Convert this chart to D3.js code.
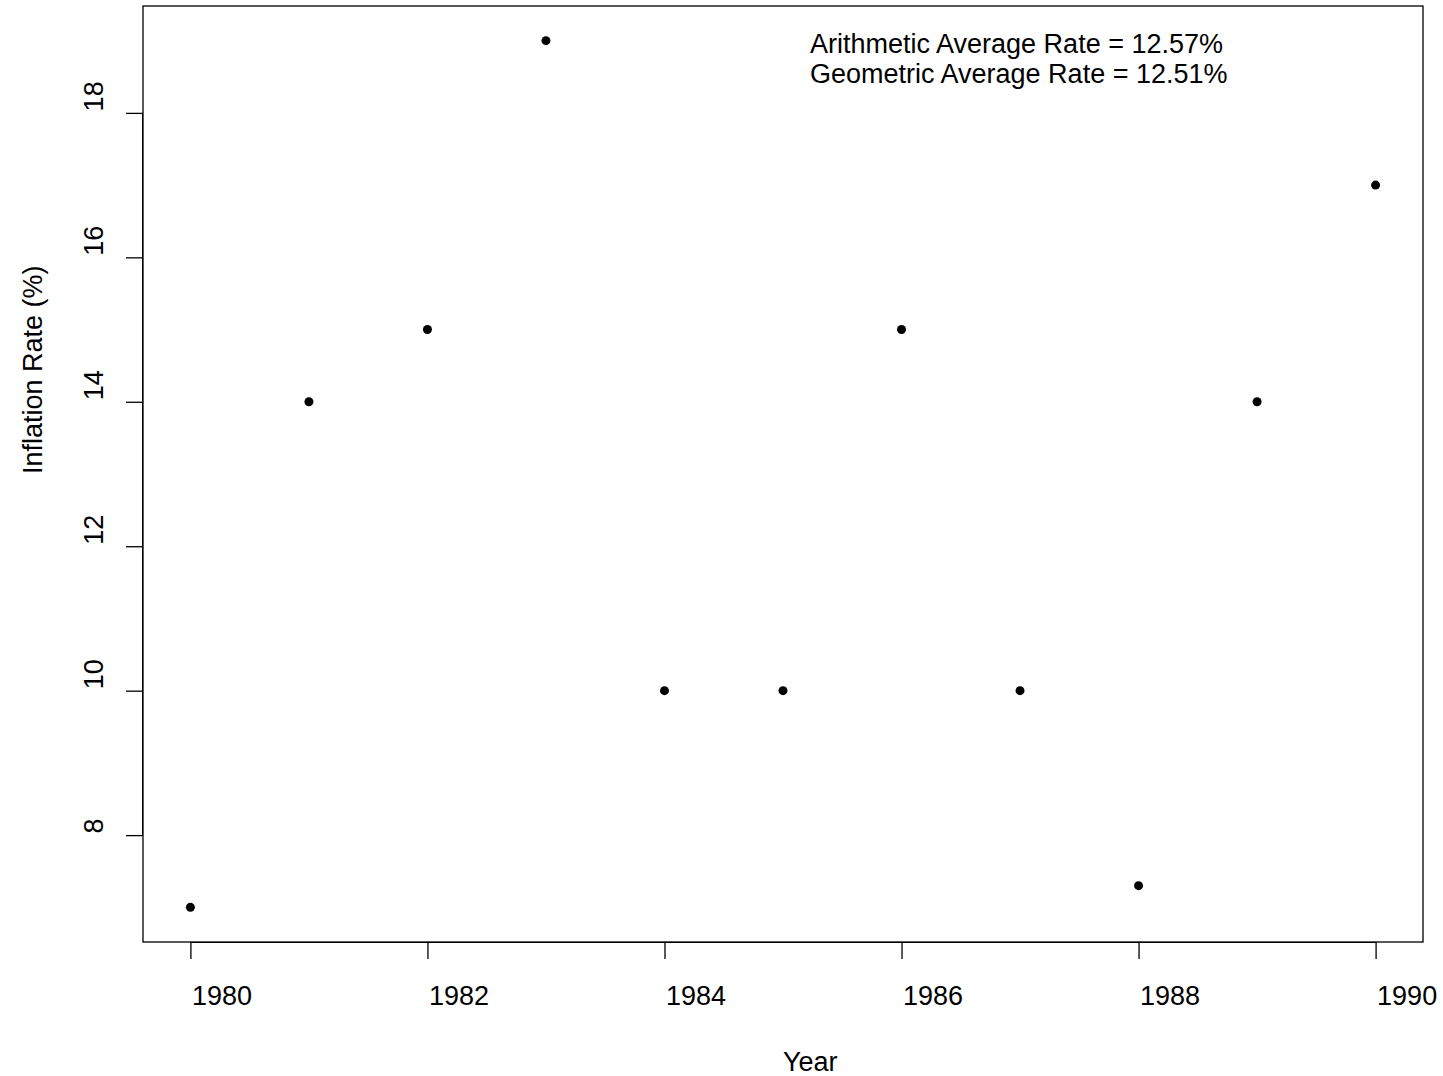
<!DOCTYPE html>
<html>
<head>
<meta charset="utf-8">
<script src="https://cdn.jsdelivr.net/npm/d3@7"></script>
<style>
  body { margin: 0; background: #fff; }
  text { font-family: "Liberation Sans", Arial, sans-serif; fill: #000; }
</style>
</head>
<body>
<div id="chart"></div>
<script>
// inflation rate per year
const years = [1980, 1981, 1982, 1983, 1984, 1985, 1986, 1987, 1988, 1989, 1990];
const rates = [7, 14, 15, 19, 10, 10, 15, 10, 7.3, 14, 17];
const xTicks = [1980, 1982, 1984, 1986, 1988, 1990];
const yTicks = [8, 10, 12, 14, 16, 18];
const notes = ["Arithmetic Average Rate = 12.57%", "Geometric Average Rate = 12.51%"];

const W = 1443, H = 1076;
const box = { left: 143, right: 1423, top: 6, bottom: 942 };
const fs = "27px";

const svg = d3.select("#chart").append("svg")
    .attr("width", W)
    .attr("height", H);

// R style 4% padding on both axes
const xExt = d3.extent(years), yExt = d3.extent(rates);
const xPad = (xExt[1] - xExt[0]) * 0.04, yPad = (yExt[1] - yExt[0]) * 0.04;

const x = d3.scaleLinear()
    .domain([xExt[0] - xPad, xExt[1] + xPad])
    .range([box.left, box.right]);
const y = d3.scaleLinear()
    .domain([yExt[0] - yPad, yExt[1] + yPad])
    .range([box.bottom, box.top]);

// plot frame
svg.append("rect")
    .attr("x", box.left)
    .attr("y", box.top)
    .attr("width", box.right - box.left)
    .attr("height", box.bottom - box.top)
    .attr("fill", "none")
    .attr("stroke", "#000")
    .attr("stroke-width", 1.3);

// x axis
const xAxis = svg.append("g")
    .attr("transform", `translate(0,${box.bottom})`)
    .call(d3.axisBottom(x).tickValues(xTicks).tickSize(17).tickSizeOuter(0).tickFormat(d3.format("d")));
xAxis.select(".domain").attr("d", `M${x(xTicks[0])},0.5H${x(xTicks[xTicks.length - 1])}`);
xAxis.selectAll("line").attr("stroke-width", 1.3);
xAxis.selectAll("text")
    .attr("text-anchor", "start")
    .attr("x", 1)
    .attr("y", 63)
    .attr("dy", 0)
    .style("font-size", fs)
    .style("font-family", "Liberation Sans, Arial, sans-serif");

// y axis
const yAxis = svg.append("g")
    .attr("transform", `translate(${box.left},0)`)
    .call(d3.axisLeft(y).tickValues(yTicks).tickSize(17).tickSizeOuter(0));
yAxis.select(".domain").attr("d", `M-0.5,${y(yTicks[0])}V${y(yTicks[yTicks.length - 1])}`);
yAxis.selectAll("line").attr("stroke-width", 1.3);
yAxis.selectAll("text")
    .attr("text-anchor", "start")
    .attr("x", 0)
    .attr("y", 0)
    .attr("dy", 0)
    .attr("transform", "translate(-40,-2) rotate(-90)")
    .style("font-size", fs)
    .style("font-family", "Liberation Sans, Arial, sans-serif");

// axis titles
svg.append("text")
    .attr("x", (box.left + box.right) / 2)
    .attr("y", 1071)
    .attr("text-anchor", "start")
    .style("font-size", fs)
    .text("Year");

svg.append("text")
    .attr("transform", `translate(42,${(box.top + box.bottom) / 2}) rotate(-90)`)
    .attr("text-anchor", "start")
    .style("font-size", fs)
    .text("Inflation Rate (%)");

// points
svg.selectAll("circle")
    .data(years.map((yr, i) => ({ yr, v: rates[i] })))
    .enter()
    .append("circle")
    .attr("cx", d => x(d.yr))
    .attr("cy", d => y(d.v))
    .attr("r", 4.5)
    .attr("fill", "#000");

// averages note
svg.selectAll(".note")
    .data(notes)
    .enter()
    .append("text")
    .attr("class", "note")
    .attr("x", 810)
    .attr("y", (d, i) => 53 + i * 30)
    .style("font-size", fs)
    .text(d => d);
</script>
</body>
</html>
